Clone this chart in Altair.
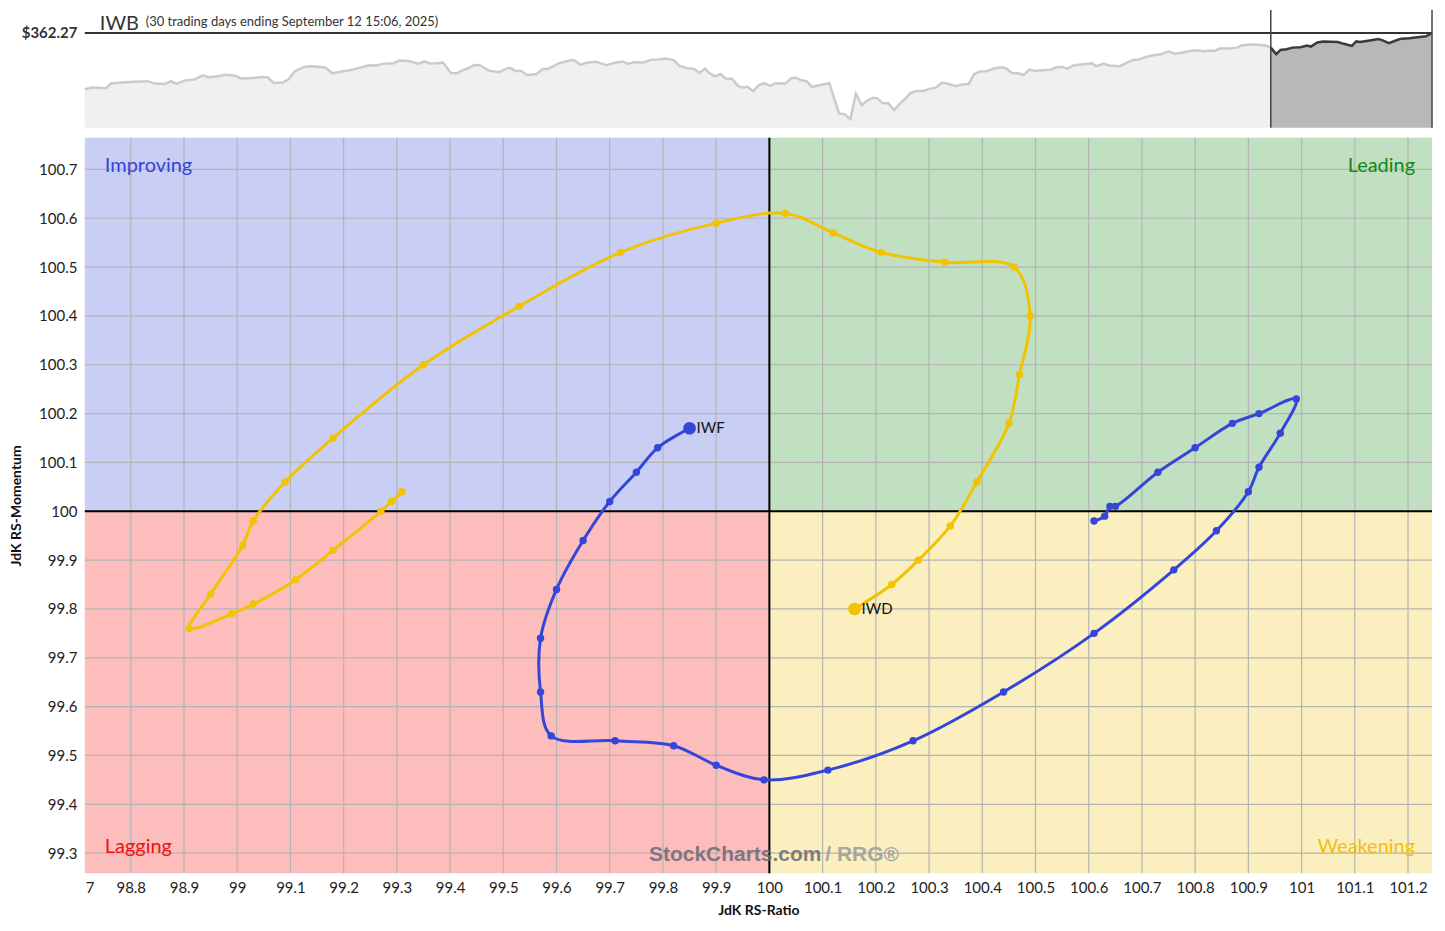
import altair as alt
import pandas as pd

# ---------------- data ----------------
# IWB price strip (trading-day index, price)
price_day = [0, 1.4, 3.9, 4.9, 7.0, 9.2, 11.6, 13.0, 14.8, 15.9, 16.9, 18.7, 20.1, 21.8, 22.9, 24.3,
             26.1, 27.8, 28.9, 31.0, 32.8, 33.8, 34.9, 36.6, 37.7, 38.8, 40.5, 41.9, 44.4, 45.8, 47.2,
             49.0, 50.7, 52.5, 53.9, 55.0, 57.1, 58.1, 59.9, 61.7, 62.7, 63.8, 65.2, 66.2, 67.7, 68.7,
             69.8, 70.8, 71.9, 72.9, 74.7, 76.5, 77.9, 78.6, 79.6, 80.7, 81.7, 83.5, 84.6, 85.6, 87.7,
             89.9, 90.6, 91.6, 92.7, 94.4, 96.5, 97.6, 99.4, 100.4, 101.5, 103.2, 104.7, 106.1, 107.5,
             108.9, 109.8, 111.2, 112.6, 113.6, 114.6, 115.4, 116.5, 117.5, 118.6, 119.6, 120.7, 121.7,
             122.4, 123.5, 124.6, 125.6, 126.7, 127.7, 129.5, 130.5, 131.3, 132.3, 133.4, 134.4, 135.5,
             137.6, 139.4, 140.4, 141.5, 142.5, 143.6, 144.6, 145.7, 146.4, 147.5, 148.5, 149.6, 150.6,
             151.7, 152.7, 153.8, 154.9, 156.3, 157.3, 158.4, 159.4, 160.9, 162.3, 163.3, 164.4, 165.4,
             166.8, 168.3, 169.7, 170.4, 171.4, 172.5, 173.5, 174.6, 175.7, 177.4, 178.5, 179.5, 180.6,
             181.6, 182.7, 184.5, 186.2, 186.9, 188.3, 189.4, 191.2, 192.2, 193.6, 195.0, 196.1, 197.5,
             198.9, 200.3, 201.4, 202.4, 204.2, 205.6, 206.7, 207.7, 208.8, 209.8, 211.6, 213.0, 213.7,
             215.5, 216.9, 218.3, 219.2,
             220.2, 221.0, 222.1, 223.2, 224.7, 225.9, 226.6, 227.8, 228.9, 230.4, 231.6, 232.7, 234.2,
             235.0, 235.7, 237.2, 239.1, 239.9, 241.0, 242.2, 243.3, 244.8, 246.3, 247.9, 249.0]
price_val = [313.3, 314.8, 314.2, 318.6, 319.2, 319.8, 320.4, 318.3, 318.0, 320.4, 318.0, 321.3, 321.6,
             325.4, 323.9, 324.5, 326.0, 325.1, 322.8, 323.1, 323.9, 323.6, 318.9, 319.2, 322.2, 328.9,
             332.8, 333.4, 332.2, 327.2, 328.6, 329.8, 331.9, 334.2, 334.0, 335.4, 336.0, 338.4, 337.8,
             335.4, 337.5, 335.7, 336.0, 336.6, 327.2, 327.2, 329.8, 331.6, 334.2, 334.5, 329.5, 328.1,
             331.3, 331.9, 329.2, 329.2, 325.7, 326.6, 331.0, 331.0, 336.0, 338.7, 338.1, 334.5, 336.3,
             337.2, 334.2, 336.0, 337.5, 335.4, 336.9, 336.6, 339.0, 339.3, 340.1, 338.4, 333.9, 331.9,
             331.0, 327.5, 331.3, 327.5, 324.5, 326.6, 322.2, 322.7, 316.3, 314.8, 315.7, 311.8, 316.9,
             318.6, 316.3, 318.6, 318.3, 322.7, 323.6, 321.3, 320.4, 315.4, 316.6, 318.6, 292.4, 291.8,
             287.4, 309.5, 299.5, 303.6, 306.0, 305.7, 301.2, 301.2, 295.3, 300.6, 305.4, 310.4, 311.8,
             311.8, 313.9, 314.8, 318.9, 318.3, 316.0, 317.7, 317.7, 326.6, 328.6, 329.2, 331.9, 332.5,
             331.0, 327.2, 327.2, 325.7, 330.4, 329.2, 330.1, 330.4, 332.2, 332.8, 331.3, 334.0, 335.1,
             336.0, 333.4, 335.4, 334.0, 333.3, 335.4, 338.6, 339.5, 341.3, 342.8, 343.7, 346.3, 344.2,
             344.8, 346.6, 347.2, 346.3, 346.9, 346.6, 348.7, 348.7, 349.5, 351.3, 352.2, 351.9, 351.3,
             349.5,
             343.9, 347.5, 348.1, 349.5, 349.8, 351.3, 350.4, 354.0, 354.9, 354.6, 354.3, 352.8, 351.0,
             354.9, 354.3, 355.5, 357.0, 355.8, 353.4, 355.5, 357.3, 357.6, 358.5, 359.4, 362.27]
SPLIT_DAY = 219.2
LAST_DAY = 249.0
MAX_PRICE = 362.27
PRICE_FLOOR = 280

# RRG tails (oldest -> newest)
iwf_ratio = [100.61, 100.63, 100.64, 100.65, 100.73, 100.80, 100.87, 100.92, 100.99, 100.96, 100.92,
             100.90, 100.84, 100.76, 100.61, 100.44, 100.27, 100.11, 99.99, 99.90, 99.82, 99.71, 99.59,
             99.57, 99.57, 99.60, 99.65, 99.70, 99.75, 99.79, 99.85]
iwf_mom = [99.98, 99.99, 100.01, 100.01, 100.08, 100.13, 100.18, 100.20, 100.23, 100.16, 100.09,
           100.04, 99.96, 99.88, 99.75, 99.63, 99.53, 99.47, 99.45, 99.48, 99.52, 99.53, 99.54,
           99.63, 99.74, 99.84, 99.94, 100.02, 100.08, 100.13, 100.17]
iwd_ratio = [99.31, 99.29, 99.27, 99.18, 99.11, 99.03, 98.99, 98.91, 98.95, 99.01, 99.03, 99.09, 99.18,
             99.35, 99.53, 99.72, 99.90, 100.03, 100.12, 100.21, 100.33, 100.46, 100.49, 100.47, 100.45,
             100.39, 100.34, 100.28, 100.23, 100.16]
iwd_mom = [100.04, 100.02, 100.00, 99.92, 99.86, 99.81, 99.79, 99.76, 99.83, 99.93, 99.98, 100.06,
           100.15, 100.30, 100.42, 100.53, 100.59, 100.61, 100.57, 100.53, 100.51, 100.50, 100.40,
           100.28, 100.18, 100.06, 99.97, 99.90, 99.85, 99.80]

x_ticks = [98.8, 98.9, 99.0, 99.1, 99.2, 99.3, 99.4, 99.5, 99.6, 99.7, 99.8, 99.9, 100.0, 100.1,
           100.2, 100.3, 100.4, 100.5, 100.6, 100.7, 100.8, 100.9, 101.0, 101.1, 101.2]
y_ticks = [99.3, 99.4, 99.5, 99.6, 99.7, 99.8, 99.9, 100.0, 100.1, 100.2, 100.3, 100.4, 100.5,
           100.6, 100.7]

X_MIN, X_MAX = 98.7137, 101.2451
Y_MIN, Y_MAX = 99.259, 100.765

quad_names = ["Improving", "Leading", "Lagging", "Weakening"]
quad_fill = ["#c9cef5", "#c1dfc1", "#fdbdbd", "#fcefbf"]
quad_text = ["#3544d8", "#13891a", "#ee1111", "#f0c010"]

FONT = "Lato"
BLUE = "#3446d9"
GOLD = "#f2c300"

W = 1350
H_STRIP = 118
H_RRG = 737

# ---------------- price strip ----------------
pdf = pd.DataFrame({"day": price_day, "price": price_val})
dsc = alt.Scale(domain=[0, LAST_DAY], nice=False, zero=False)
px = alt.X("day:Q", scale=dsc, axis=None)
p_axis = alt.Axis(values=[MAX_PRICE], format="$.2f", ticks=False, domain=False, grid=False,
                  labelFont=FONT, labelFontSize=15, labelFontWeight="bold", labelColor="#333",
                  labelPadding=8, title=None)
psc = alt.Scale(domain=[PRICE_FLOOR, 382.2], nice=False, zero=False)
py = alt.Y("price:Q", scale=psc, axis=p_axis)

light = alt.Chart(pdf).transform_filter(alt.datum.day <= SPLIT_DAY).mark_area(
    color="#e9e9e9", line={"color": "#cbcbcb", "strokeWidth": 2.5}).encode(
    x=px, y=py, y2=alt.datum(PRICE_FLOOR))
dark = alt.Chart(pdf).transform_filter(alt.datum.day >= SPLIT_DAY).mark_area(
    color="#9a9a9a", line={"color": "#3a3a3a", "strokeWidth": 2.5}).encode(
    x=px, y=py, y2=alt.datum(PRICE_FLOOR))
maxline = alt.Chart(pd.DataFrame({"p": [MAX_PRICE]})).mark_rule(color="#333", strokeWidth=2).encode(
    y=alt.Y("p:Q", scale=psc, axis=p_axis))
vlines = alt.Chart(pd.DataFrame({"d": [SPLIT_DAY, LAST_DAY]})).mark_rule(
    color="#444", strokeWidth=1.5).encode(x=alt.X("d:Q", scale=dsc, axis=None))
t_main = alt.Chart(pd.DataFrame({"t": ["IWB"]})).mark_text(
    align="left", baseline="top", font=FONT, fontSize=20, color="#333").encode(
    x=alt.value(15), y=alt.value(4), text="t:N")
t_sub = alt.Chart(pd.DataFrame({"t": ["(30 trading days ending September 12 15:06, 2025)"]})).mark_text(
    align="left", baseline="top", font=FONT, fontSize=13, color="#333").encode(
    x=alt.value(61), y=alt.value(6), text="t:N")

strip = alt.layer(light, dark, maxline, vlines, t_main, t_sub).properties(width=W, height=H_STRIP)

# ---------------- RRG ----------------
xsc = alt.Scale(domain=[X_MIN, X_MAX], nice=False, zero=False)
ysc = alt.Scale(domain=[Y_MIN, Y_MAX], nice=False, zero=False)
X_AX = alt.Axis(values=x_ticks, format="~g", title="JdK RS-Ratio", grid=False, ticks=False,
                domain=False, labelFont=FONT, labelFontSize=15, labelColor="#222", labelPadding=7,
                labelFlush=False, labelOverlap=False, titleFont=FONT, titleFontSize=14,
                titleFontWeight="bold", titleColor="#111", titlePadding=8)
Y_AX = alt.Axis(values=y_ticks, format="~g", title="JdK RS-Momentum", grid=False, ticks=False,
                domain=False, labelFont=FONT, labelFontSize=15, labelColor="#222", labelPadding=8,
                labelOverlap=False, titleFont=FONT, titleFontSize=14, titleFontWeight="bold",
                titleColor="#111", titlePadding=15)

qdf = pd.DataFrame({
    "name": quad_names,
    "x1": [X_MIN, 100, X_MIN, 100], "x2": [100, X_MAX, 100, X_MAX],
    "y1": [100, 100, Y_MIN, Y_MIN], "y2": [Y_MAX, Y_MAX, 100, 100],
    "fill": quad_fill,
})
quads = alt.Chart(qdf).mark_rect().encode(
    x=alt.X("x1:Q", scale=xsc, axis=X_AX), x2="x2:Q",
    y=alt.Y("y1:Q", scale=ysc, axis=Y_AX), y2="y2:Q",
    color=alt.Color("fill:N", scale=None))

xgrid = alt.Chart(pd.DataFrame({"v": x_ticks})).mark_rule(color="#b4b4b4", strokeWidth=1.2).encode(
    x=alt.X("v:Q", scale=xsc, axis=X_AX))
ygrid = alt.Chart(pd.DataFrame({"v": y_ticks})).mark_rule(color="#b4b4b4", strokeWidth=1.2).encode(
    y=alt.Y("v:Q", scale=ysc, axis=Y_AX))
cx = alt.Chart(pd.DataFrame({"v": [100.0]})).mark_rule(color="#000", strokeWidth=2).encode(
    x=alt.X("v:Q", scale=xsc, axis=X_AX))
cy = alt.Chart(pd.DataFrame({"v": [100.0]})).mark_rule(color="#000", strokeWidth=2).encode(
    y=alt.Y("v:Q", scale=ysc, axis=Y_AX))

qlab = pd.DataFrame({"name": quad_names, "col": quad_text})
def qtext(name, align, xv, yv):
    return alt.Chart(qlab[qlab.name == name]).mark_text(
        align=align, baseline="middle", font=FONT, fontSize=20).encode(
        x=alt.value(xv), y=alt.value(yv), text="name:N", color=alt.Color("col:N", scale=None))
q1 = qtext("Improving", "left", 20, 28)
q2 = qtext("Leading", "right", W - 17, 28)
q3 = qtext("Lagging", "left", 20, 711)
q4 = qtext("Weakening", "right", W - 17, 711)

wm1 = alt.Chart(pd.DataFrame({"t": ["StockCharts.com"]})).mark_text(
    align="right", baseline="middle", font="Liberation Sans", fontSize=21, fontWeight="bold",
    color="#6a6a78", opacity=0.85).encode(x=alt.value(738), y=alt.value(719), text="t:N")
wm2 = alt.Chart(pd.DataFrame({"t": ["/ RRG®"]})).mark_text(
    align="left", baseline="middle", font="Liberation Sans", fontSize=21, fontWeight="bold",
    color="#9a9a9a", opacity=0.85).encode(x=alt.value(742), y=alt.value(719), text="t:N")
cut7 = alt.Chart(pd.DataFrame({"t": ["7"]})).mark_text(
    align="left", baseline="middle", font=FONT, fontSize=15, color="#222").encode(
    x=alt.value(1), y=alt.value(H_RRG + 14.5), text="t:N")

rows = []
for sym, rs, ms in (("IWF", iwf_ratio, iwf_mom), ("IWD", iwd_ratio, iwd_mom)):
    n = len(rs)
    for i, (r, m) in enumerate(zip(rs, ms)):
        rows.append({"sym": sym, "i": i, "ratio": r, "mom": m, "head": i == n - 1})
tdf = pd.DataFrame(rows)
csc = alt.Scale(domain=["IWF", "IWD"], range=[BLUE, GOLD])
base = alt.Chart(tdf).encode(
    x=alt.X("ratio:Q", scale=xsc, axis=X_AX),
    y=alt.Y("mom:Q", scale=ysc, axis=Y_AX),
    color=alt.Color("sym:N", scale=csc, legend=None))
lines = base.mark_line(interpolate="catmull-rom", strokeWidth=3).encode(order="i:Q", detail="sym:N")
dots = base.mark_circle(size=55, opacity=1)
heads = base.transform_filter(alt.datum.head).mark_circle(size=160, opacity=1)
hlab = base.transform_filter(alt.datum.head).mark_text(
    align="left", baseline="middle", dx=7, font=FONT, fontSize=15).encode(
    text="sym:N", color=alt.value("#111"))

rrg = alt.layer(quads, xgrid, ygrid, cx, cy, q1, q2, q3, q4, wm1, wm2, cut7,
                lines, dots, heads, hlab).properties(width=W, height=H_RRG)

chart = alt.vconcat(strip, rrg, spacing=10, bounds="flush").properties(
    padding={"left": 1, "top": 0, "right": 0, "bottom": 0}
).configure(font=FONT, view=alt.ViewConfig(strokeWidth=0))

chart.save("out.html", embed_options={"renderer": "svg", "actions": False})
